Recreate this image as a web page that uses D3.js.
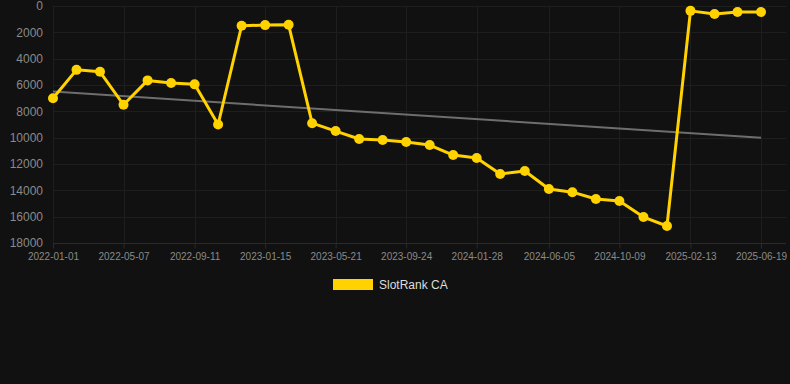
<!DOCTYPE html>
<html>
<head>
<meta charset="utf-8">
<script src="https://cdn.jsdelivr.net/npm/d3@7"></script>
<style>
  html, body { margin: 0; padding: 0; background: #111111; }
  svg { display: block; font-family: "Liberation Sans", Arial, sans-serif; }
</style>
</head>
<body>
<svg id="chart"></svg>
<script>
// Chart size
var width = 790;
var height = 384;

// Colours
var gold = "#FFD200";
var trendGrey = "#6e6e6e";
var gridColour = "#1e1e1e";
var axisColour = "#2a2a2a";
var labelGrey = "#8a8a8a";

// Sample dates (roughly every six weeks)
var dates = [
    "2022-01-01", "2022-02-12", "2022-03-26", "2022-05-07", "2022-06-19", "2022-07-31",
    "2022-09-11", "2022-10-23", "2022-12-04", "2023-01-15", "2023-02-26", "2023-04-09",
    "2023-05-21", "2023-07-02", "2023-08-13", "2023-09-24", "2023-11-05", "2023-12-17",
    "2024-01-28", "2024-03-10", "2024-04-23", "2024-06-05", "2024-07-17", "2024-08-28",
    "2024-10-09", "2024-11-21", "2025-01-02", "2025-02-13", "2025-03-28", "2025-05-08",
    "2025-06-19"
];

// SlotRank CA values
var rankValues = [
    7000, 4850, 5000, 7500, 5650, 5850, 5950, 9000, 1500, 1450, 1430,
    8900, 9500, 10100, 10180, 10330, 10560, 11320, 11540, 12760, 12530,
    13900, 14140, 14660, 14810, 16030, 16710, 370, 610, 460, 460
];

// Trend line end values
var trendValues = [6500, 10000];

// Axis ticks
var xTickLabels = [
    "2022-01-01", "2022-05-07", "2022-09-11", "2023-01-15", "2023-05-21", "2023-09-24",
    "2024-01-28", "2024-06-05", "2024-10-09", "2025-02-13", "2025-06-19"
];
var yTickValues = [0, 2000, 4000, 6000, 8000, 10000, 12000, 14000, 16000, 18000];

var seriesName = "SlotRank CA";

var parseDate = d3.timeParse("%Y-%m-%d");
var formatDate = d3.timeFormat("%Y-%m-%d");

var data = dates.map(function (d, i) {
    return { date: parseDate(d), value: rankValues[i] };
});

var svg = d3.select("#chart")
    .attr("width", width)
    .attr("height", height);

svg.append("rect")
    .attr("width", width)
    .attr("height", height)
    .attr("fill", "#111111");

// Plot area
var plotLeft = 53, plotRight = 786, plotTop = 6, plotBottom = 243;

var xScale = d3.scaleTime()
    .domain([parseDate(dates[0]), parseDate(dates[dates.length - 1])])
    .range([plotLeft, 761]);

var yScale = d3.scaleLinear()
    .domain([0, 18000])
    .range([plotTop, plotBottom]);

// Horizontal grid lines
svg.append("g")
    .selectAll("line")
    .data(yTickValues)
    .enter()
    .append("line")
    .attr("x1", plotLeft)
    .attr("x2", plotRight)
    .attr("y1", function (d) { return Math.round(yScale(d)) + 0.5; })
    .attr("y2", function (d) { return Math.round(yScale(d)) + 0.5; })
    .attr("stroke", gridColour)
    .attr("stroke-width", 1);

// Vertical grid lines
var xTicks = xTickLabels.map(parseDate);
svg.append("g")
    .selectAll("line")
    .data(xTicks)
    .enter()
    .append("line")
    .attr("x1", function (d) { return Math.round(xScale(d)) + 0.5; })
    .attr("x2", function (d) { return Math.round(xScale(d)) + 0.5; })
    .attr("y1", plotTop)
    .attr("y2", plotBottom)
    .attr("stroke", gridColour)
    .attr("stroke-width", 1);

// x axis
var xAxis = d3.axisBottom(xScale)
    .tickValues(xTicks)
    .tickFormat(formatDate)
    .tickSize(5)
    .tickPadding(4);

var gx = svg.append("g")
    .attr("transform", "translate(0," + (plotBottom + 0.5) + ")")
    .call(xAxis);
gx.select(".domain")
    .attr("stroke", axisColour)
    .attr("d", "M" + plotLeft + ",0H" + plotRight);
gx.selectAll(".tick line").attr("stroke", axisColour);
gx.selectAll("text")
    .attr("fill", labelGrey)
    .style("font-size", "10px")
    .style("font-family", "Liberation Sans, Arial, sans-serif");

// y axis
var yAxis = d3.axisLeft(yScale)
    .tickValues(yTickValues)
    .tickFormat(d3.format("d"))
    .tickSize(0)
    .tickPadding(10);

var gy = svg.append("g")
    .attr("transform", "translate(" + plotLeft + ",0)")
    .call(yAxis);
gy.select(".domain").remove();
gy.selectAll("text")
    .attr("fill", labelGrey)
    .style("font-size", "12px")
    .style("font-family", "Liberation Sans, Arial, sans-serif");

// Trend line
var trendDates = [data[0].date, data[data.length - 1].date];
svg.append("line")
    .attr("x1", xScale(trendDates[0]))
    .attr("y1", yScale(trendValues[0]))
    .attr("x2", xScale(trendDates[1]))
    .attr("y2", yScale(trendValues[1]))
    .attr("stroke", trendGrey)
    .attr("stroke-width", 2);

// Series line
var line = d3.line()
    .x(function (d) { return xScale(d.date); })
    .y(function (d) { return yScale(d.value); });

svg.append("path")
    .datum(data)
    .attr("d", line)
    .attr("fill", "none")
    .attr("stroke", gold)
    .attr("stroke-width", 3)
    .attr("stroke-linejoin", "round");

// Points
svg.append("g")
    .selectAll("circle")
    .data(data)
    .enter()
    .append("circle")
    .attr("cx", function (d) { return xScale(d.date); })
    .attr("cy", function (d) { return yScale(d.value); })
    .attr("r", 5)
    .attr("fill", gold);

// Legend
var legend = svg.append("g")
    .attr("transform", "translate(333,279)");

legend.append("rect")
    .attr("width", 40)
    .attr("height", 11)
    .attr("fill", gold);

legend.append("text")
    .attr("x", 46)
    .attr("y", 10)
    .attr("fill", "#dddddd")
    .style("font-size", "12px")
    .text(seriesName);
</script>
</body>
</html>
